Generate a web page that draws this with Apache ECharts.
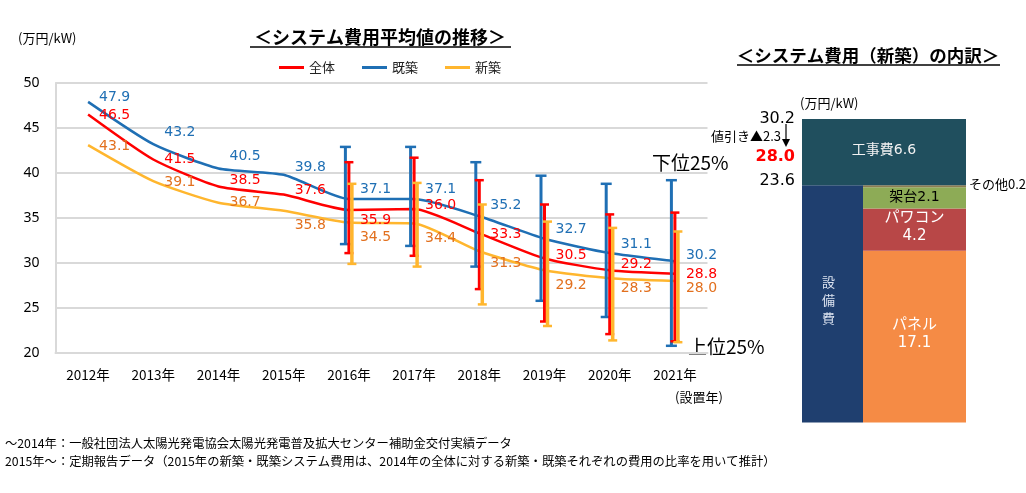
<!DOCTYPE html>
<html><head><meta charset="utf-8">
<script src="https://cdn.jsdelivr.net/npm/echarts@6/dist/echarts.min.js"></script>
<style>html,body{margin:0;padding:0;background:#fff}#c{width:1026px;height:493px}</style>
</head><body><div id="c"></div>
<script>
// ---- data ----
const years = ['2012年','2013年','2014年','2015年','2016年','2017年','2018年','2019年','2020年','2021年'];
const allAvg      = [46.5, 41.5, 38.5, 37.6, 35.9, 36.0, 33.3, 30.5, 29.2, 28.8];
const existingAvg = [47.9, 43.2, 40.5, 39.8, 37.1, 37.1, 35.2, 32.7, 31.1, 30.2];
const newAvg      = [43.1, 39.1, 36.7, 35.8, 34.5, 34.4, 31.3, 29.2, 28.3, 28.0];
const rangeYears  = ['2016年','2017年','2018年','2019年','2020年','2021年'];
const existingHigh = [42.9, 42.9, 41.2, 39.7, 38.8, 39.2];
const existingLow  = [32.1, 31.9, 29.6, 25.8, 24.0, 20.8];
const allHigh      = [41.2, 41.7, 39.2, 36.5, 35.4, 35.6];
const allLow       = [31.1, 30.8, 27.1, 23.5, 22.1, 21.3];
const newHigh      = [38.8, 38.9, 36.5, 34.6, 33.9, 33.5];
const newLow       = [29.9, 29.6, 25.4, 23.0, 21.4, 21.2];
const yTicks = [20, 25, 30, 35, 40, 45, 50];

const partNames  = ['パネル', 'パワコン', '架台', 'その他'];
const partValues = [17.1, 4.2, 2.1, 0.2];
const equipmentName = '設備費';
const equipmentTotal = 23.6;
const constructionName = '工事費';
const constructionValue = 6.6;
const totalCost = 30.2;
const discountValue = 2.3;
const netCost = 28.0;

// ---- styles / layout ----
const JP = "'Noto Sans CJK JP','Noto Sans',sans-serif";
const NUM = "'DejaVu Sans',sans-serif";
const MIX = "'DejaVu Sans','Noto Sans CJK JP',sans-serif";
const cRed = '#FF0000', cBlue = '#1F6FB4', cYel = '#FFB62E', cOrgTxt = '#E2701E';
const dyAll = [1, 0, -6, -4, 10, -4, 1, -3.5, -6, 1];
const dyEx  = [-5, -11.5, -12, -7, -10, -10, -10.5, -9, -9, -6];
const dyNew = [1.5, 1.5, 0, 15, 15, 15, 12, 15, 10, 7];
const partColors = ['#F58B45', '#B84747', '#8DAB56', '#8C7D52'];
const equipColor = '#1F3F6F', constColor = '#204F5E';

function lineSeries(name, vals, dys, color, txtColor) {
  return {
    name, type: 'line', xAxisIndex: 0, yAxisIndex: 0, smooth: 0.2,
    symbol: 'circle', symbolSize: 0.01, z: 3,
    lineStyle: { color, width: 2.5 }, itemStyle: { color },
    label: { show: true, position: 'right', distance: 11, color: txtColor, fontSize: 14, fontFamily: NUM,
      formatter: p => Number(p.value).toFixed(1) },
    data: vals.map((v, i) => ({ value: v, label: { offset: [0, dys[i]] } }))
  };
}
function errSeries(name, lows, highs, color, off, capW, lw) {
  return {
    name, type: 'custom', xAxisIndex: 0, yAxisIndex: 0, z: 5,
    data: rangeYears.map((y, i) => [years.indexOf(y), lows[i], highs[i]]),
    renderItem: function (params, api) {
      const lo = api.coord([api.value(0), api.value(1)]);
      const hi = api.coord([api.value(0), api.value(2)]);
      const x = lo[0] + off;
      return { type: 'group', children: [
        { type: 'line', shape: { x1: x, y1: hi[1], x2: x, y2: lo[1] }, style: { stroke: color, lineWidth: lw } },
        { type: 'line', shape: { x1: x - capW / 2, y1: hi[1], x2: x + capW / 2, y2: hi[1] }, style: { stroke: color, lineWidth: 2.5 } },
        { type: 'line', shape: { x1: x - capW / 2, y1: lo[1], x2: x + capW / 2, y2: lo[1] }, style: { stroke: color, lineWidth: 2.5 } }
      ] };
    }
  };
}

// breakdown segments built from the values: [start, end, column(0 left,1 right,2 full), kind]
const segs = [];
segs.push([0, equipmentTotal, 0, -1]);
let acc = 0;
partValues.forEach((v, i) => { segs.push([acc, acc + v, 1, i]); acc += v; });
segs.push([equipmentTotal, equipmentTotal + constructionValue, 2, -2]);
const splitFrac = 0.372;

function breakdownRender(params, api) {
  const cs = params.coordSys;
  const y0 = api.coord([0, api.value(0)])[1];
  const y1 = api.coord([0, api.value(1)])[1];
  const col = api.value(2), kind = api.value(3);
  const xs = cs.x + cs.width * splitFrac;
  let xa, xb;
  if (col === 0) { xa = cs.x; xb = xs; } else if (col === 1) { xa = xs; xb = cs.x + cs.width; } else { xa = cs.x; xb = cs.x + cs.width; }
  const cx = (xa + xb) / 2, cy = (y0 + y1) / 2;
  const children = [];
  let fill;
  if (kind === -1) fill = equipColor; else if (kind === -2) fill = constColor; else fill = partColors[kind];
  children.push({ type: 'rect', shape: { x: xa, y: y1, width: xb - xa, height: y0 - y1 }, style: { fill } });
  const val = (api.value(1) - api.value(0)).toFixed(1);
  if (kind === -1) {
    children.push({ type: 'text', style: { text: equipmentName.split('').join('\n'), x: cx - 4, y: cy - 4, align: 'center', verticalAlign: 'middle', fill: '#DCE3F0', font: '13px ' + JP, lineHeight: 18 } });
    children.push({ type: 'text', style: { text: equipmentTotal.toFixed(1), x: cs.x - 7, y: y1 - 4, align: 'right', verticalAlign: 'middle', fill: '#000', font: '16px ' + NUM } });
  } else if (kind === -2) {
    children.push({ type: 'text', style: { text: constructionName + val, x: cx, y: cy - 2, align: 'center', verticalAlign: 'middle', fill: '#F2F2F2', font: '14px ' + MIX } });
    children.push({ type: 'text', style: { text: totalCost.toFixed(1), x: cs.x - 7, y: y1, align: 'right', verticalAlign: 'middle', fill: '#000', font: '16px ' + NUM } });
    children.push({ type: 'text', style: { text: '値引き▲' + discountValue.toFixed(1), x: cs.x - 21, y: y1 + 17, align: 'right', verticalAlign: 'middle', fill: '#000', font: '13px ' + JP } });
    children.push({ type: 'line', shape: { x1: cs.x - 16, y1: y1 + 5, x2: cs.x - 16, y2: y1 + 21 }, style: { stroke: '#000', lineWidth: 1.2 } });
    children.push({ type: 'polygon', shape: { points: [[cs.x - 20, y1 + 20], [cs.x - 12, y1 + 20], [cs.x - 16, y1 + 28]] }, style: { fill: '#000' } });
    children.push({ type: 'text', style: { text: netCost.toFixed(1), x: cs.x - 7, y: y1 + 38, align: 'right', verticalAlign: 'middle', fill: '#FF0000', font: 'bold 16px ' + NUM } });
  } else if (kind === 3) {
    children.push({ type: 'text', style: { text: partNames[kind] + val, x: cs.x + cs.width + 3, y: cy - 2, align: 'left', verticalAlign: 'middle', fill: '#000', font: '13px ' + JP } });
  } else if (kind === 2) {
    children.push({ type: 'text', style: { text: partNames[kind] + val, x: cx, y: cy - 1, align: 'center', verticalAlign: 'middle', fill: '#000', font: '14px ' + MIX } });
  } else {
    children.push({ type: 'text', style: { text: partNames[kind] + '\n' + val, x: cx, y: cy - 2, align: 'center', verticalAlign: 'middle', fill: '#FFFFFF', font: '15px ' + MIX, lineHeight: 18 } });
  }
  return { type: 'group', children };
}

const chart = echarts.init(document.getElementById('c'), null, { renderer: 'canvas' });
chart.setOption({
  animation: false,
  backgroundColor: '#fff',
  legend: {
    data: ['全体', '既築', '新築'], left: 274, top: 56, itemGap: 27, itemWidth: 25, itemHeight: 3, icon: 'rect',
    textStyle: { fontSize: 13, fontFamily: JP, color: '#222' }
  },
  grid: [
    { left: 55.5, right: 318.5, top: 83, bottom: 140 },
    { left: 802, top: 119, width: 164, height: 303.5 }
  ],
  xAxis: [
    { type: 'category', data: years, gridIndex: 0, boundaryGap: true,
      axisLine: { lineStyle: { color: '#D9D9D9', width: 2 } }, axisTick: { show: false },
      axisLabel: { color: '#000', fontSize: 13.5, fontFamily: JP, margin: 15 } },
    { type: 'value', gridIndex: 1, min: 0, max: 1, show: false }
  ],
  yAxis: [
    { type: 'value', gridIndex: 0, min: yTicks[0], max: yTicks[yTicks.length - 1], interval: yTicks[1] - yTicks[0],
      axisLine: { show: true, lineStyle: { color: '#D9D9D9', width: 2 } },
      splitLine: { lineStyle: { color: '#D9D9D9', width: 2 } },
      axisLabel: { color: '#000', fontSize: 14, fontFamily: "'Noto Sans',sans-serif", margin: 16 } },
    { type: 'value', gridIndex: 1, min: 0, max: equipmentTotal + constructionValue, show: false }
  ],
  series: [
    lineSeries('既築', existingAvg, dyEx, cBlue, cBlue),
    lineSeries('全体', allAvg, dyAll, cRed, cRed),
    lineSeries('新築', newAvg, dyNew, cYel, cOrgTxt),
    errSeries('既築範囲', existingLow, existingHigh, cBlue, -3.5, 11, 3),
    errSeries('全体範囲', allLow, allHigh, cRed, 0, 9, 3),
    errSeries('新築範囲', newLow, newHigh, cYel, 3, 9, 3.5),
    { name: '内訳', type: 'custom', xAxisIndex: 1, yAxisIndex: 1, data: segs, renderItem: breakdownRender }
  ],
  graphic: [
    { type: 'text', left: 18, top: 32, style: { text: '(万円/kW)', font: '13px ' + JP, fill: '#000' } },
    { type: 'text', x: 380, y: 37, style: { text: '＜システム費用平均値の推移＞', font: 'bold 18px ' + JP, fill: '#000', align: 'center', verticalAlign: 'middle' } },
    { type: 'line', shape: { x1: 250, y1: 47, x2: 511, y2: 47 }, style: { stroke: '#000', lineWidth: 1.5 } },
    { type: 'text', x: 868, y: 55, style: { text: '＜システム費用（新築）の内訳＞', font: 'bold 17.5px ' + JP, fill: '#000', align: 'center', verticalAlign: 'middle' } },
    { type: 'line', shape: { x1: 737, y1: 65, x2: 1000, y2: 65 }, style: { stroke: '#000', lineWidth: 1.5 } },
    { type: 'text', x: 800, y: 103, style: { text: '(万円/kW)', font: '13px ' + JP, fill: '#000', verticalAlign: 'middle' } },
    { type: 'text', x: 652, y: 163, style: { text: '下位25%', font: '19px ' + JP, fill: '#000', verticalAlign: 'middle' } },
    { type: 'text', x: 688, y: 347, style: { text: '上位25%', font: '19px ' + JP, fill: '#000', verticalAlign: 'middle' } },
    { type: 'text', x: 699, y: 397, style: { text: '(設置年)', font: '13px ' + JP, fill: '#000', align: 'center', verticalAlign: 'middle' } },
    { type: 'text', x: 5, y: 443, style: { text: '～2014年：一般社団法人太陽光発電協会太陽光発電普及拡大センター補助金交付実績データ', font: '12.3px ' + JP, fill: '#000', verticalAlign: 'middle' } },
    { type: 'text', x: 5, y: 461, style: { text: '2015年～：定期報告データ（2015年の新築・既築システム費用は、2014年の全体に対する新築・既築それぞれの費用の比率を用いて推計）', font: '12.3px ' + JP, fill: '#000', verticalAlign: 'middle' } }
  ]
});
</script></body></html>
